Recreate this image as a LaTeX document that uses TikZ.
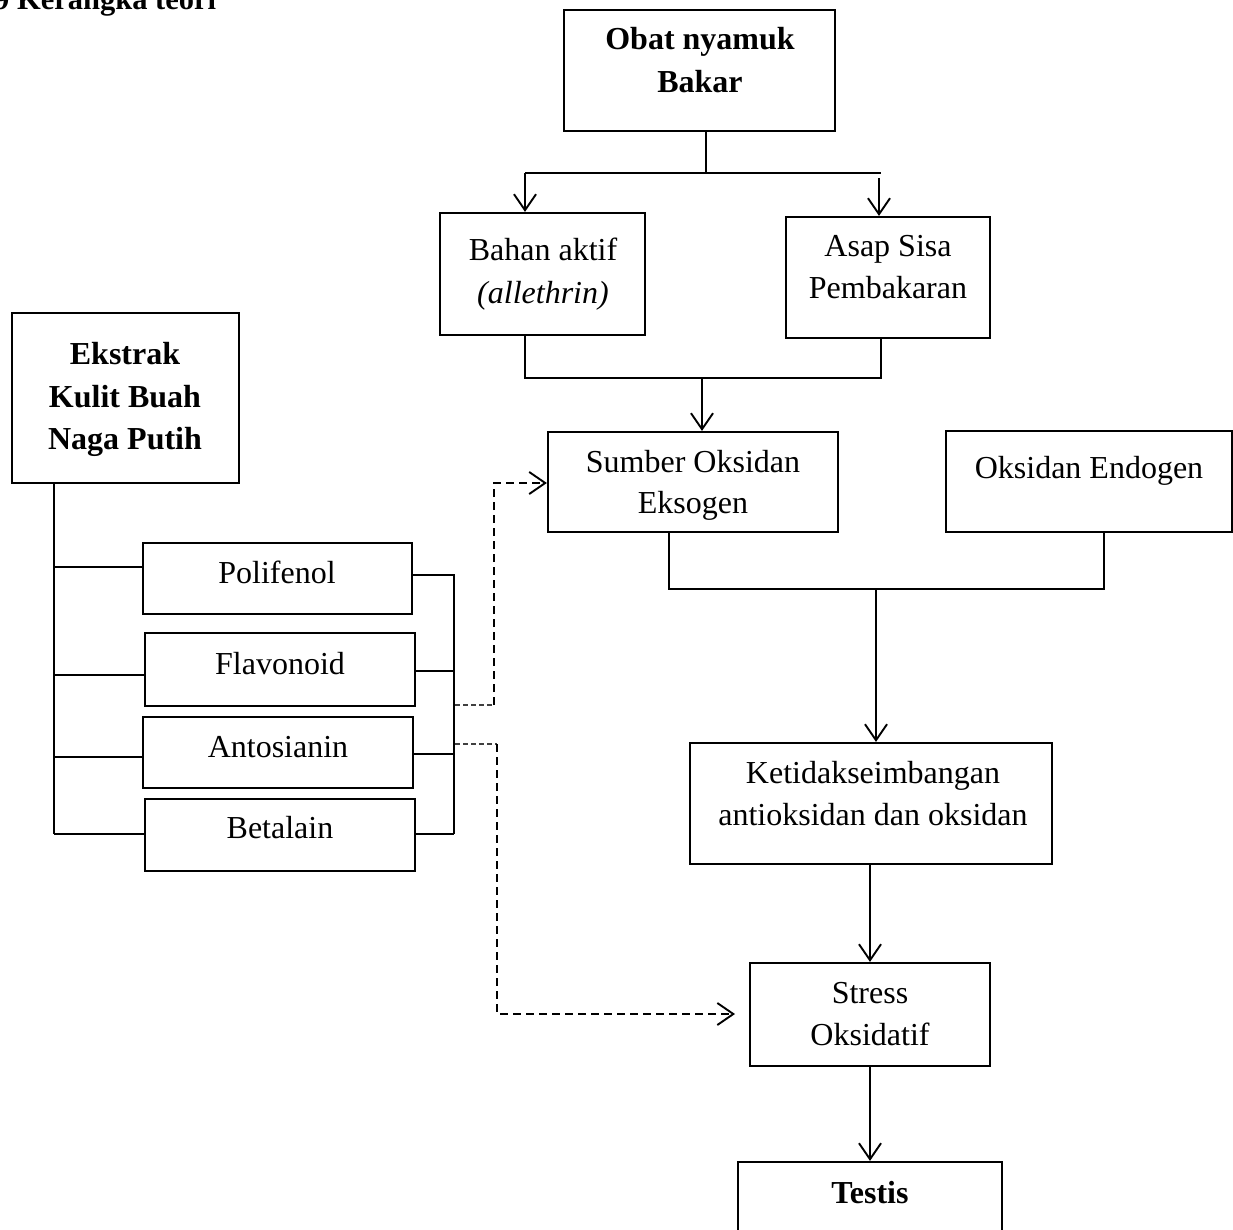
\documentclass[tikz,border=0pt]{standalone}
\usepackage{fontspec}
\setmainfont{Liberation Serif}
\usetikzlibrary{arrows.meta}
\begin{document}
\begin{tikzpicture}[x=1pt,y=-1pt,
  box/.style={draw, line width=2.2pt, rectangle, inner sep=0pt},
  txt/.style={inner sep=0pt, anchor=base, font=\fontsize{32}{42}\selectfont},
  btxt/.style={txt, font=\fontsize{32}{42}\selectfont\bfseries},
  conn/.style={line width=1.7pt},
  arr/.style={conn, -{Straight Barb[length=16pt,width=22pt,line width=1.9pt]}},
  dsh/.style={line width=1.7pt, dash pattern=on 8pt off 5pt},
  dshthin/.style={line width=1.1pt, black!75, dash pattern=on 5pt off 3pt},
  dsharr/.style={dsh, -{Straight Barb[length=16pt,width=22pt,line width=1.9pt]}}
]
\useasboundingbox (0,0) rectangle (1233,1230);

% title
\node[btxt, anchor=base west, font=\fontsize{30.5}{40}\selectfont\bfseries] (title) at (-6,10) {9 Kerangka teori};

% boxes: center, width, height
\node[box, minimum width=271pt, minimum height=121pt] (obat) at (699.5,70.5) {};
\node[box, minimum width=205pt, minimum height=122pt] (bahan) at (542.5,274) {};
\node[box, minimum width=204pt, minimum height=121pt] (asap) at (888,277.5) {};
\node[box, minimum width=290pt, minimum height=100pt] (sumber) at (693,482) {};
\node[box, minimum width=286pt, minimum height=101pt] (endogen) at (1089,481.5) {};
\node[box, minimum width=362pt, minimum height=121pt] (ketidak) at (871,803.5) {};
\node[box, minimum width=240pt, minimum height=103pt] (stress) at (870,1014.5) {};
\node[box, minimum width=264pt, minimum height=120pt] (testis) at (870,1222) {};
\node[box, minimum width=227pt, minimum height=170pt] (ekstrak) at (125.5,398) {};
\node[box, minimum width=269pt, minimum height=71pt] (poli) at (277.5,578.5) {};
\node[box, minimum width=270pt, minimum height=73pt] (flav) at (280,669.5) {};
\node[box, minimum width=270pt, minimum height=71pt] (anto) at (278,752.5) {};
\node[box, minimum width=270pt, minimum height=72pt] (beta) at (280,835) {};

% texts
\node[btxt] (obat1) at (700,50) {Obat nyamuk};
\node[btxt] (obat2) at (700,93) {Bakar};
\node[txt] (bahan1) at (543,261) {Bahan aktif};
\node[txt] (bahan2) at (543,304) {\itshape (allethrin)};
\node[txt] (asap1) at (888,257) {Asap Sisa};
\node[txt] (asap2) at (888,299) {Pembakaran};
\node[txt] (sumber1) at (693,472) {Sumber Oksidan};
\node[txt] (sumber2) at (693,513) {Eksogen};
\node[txt] (endogen1) at (1089,478) {Oksidan Endogen};
\node[txt] (ket1) at (873,783) {Ketidakseimbangan};
\node[txt] (ket2) at (873,825) {antioksidan dan oksidan};
\node[txt] (stress1) at (870,1003) {Stress};
\node[txt] (stress2) at (870,1045) {Oksidatif};
\node[btxt] (testis1) at (870,1203) {Testis};
\node[btxt] (eks1) at (125,364) {Ekstrak};
\node[btxt] (eks2) at (125,407) {Kulit Buah};
\node[btxt] (eks3) at (125,449) {Naga Putih};
\node[txt] (poli1) at (277,583) {Polifenol};
\node[txt] (flav1) at (280,674) {Flavonoid};
\node[txt] (anto1) at (278,757) {Antosianin};
\node[txt] (beta1) at (280,838) {Betalain};

% top tree
\coordinate (j1) at (706,173);
\coordinate (j1l) at (525,173);
\coordinate (j1r) at (881,173);
\coordinate (j1r2) at (879,178);
\draw[conn] (j1 |- obat.south) -- (j1);
\draw[conn] (j1l) -- (j1r);
\draw[arr] (j1l) -- (j1l |- bahan.north);
\draw[arr] (j1r2) -- (j1r2 |- asap.north);

\coordinate (j2l) at (525,378);
\coordinate (j2r) at (881,378);
\coordinate (j2) at (702,378);
\draw[conn] (j2l |- bahan.south) -- (j2l) -- (j2r) -- (j2r |- asap.south);
\draw[arr] (j2) -- (j2 |- sumber.north);

\coordinate (j3l) at (669,589);
\coordinate (j3r) at (1104,589);
\coordinate (j3) at (876,589);
\draw[conn] (j3l |- sumber.south) -- (j3l) -- (j3r) -- (j3r |- endogen.south);
\draw[arr] (j3) -- (j3 |- ketidak.north);

\coordinate (j4) at (870,864);
\draw[arr] (j4 |- ketidak.south) -- (j4 |- stress.north);
\draw[arr] (j4 |- stress.south) -- (j4 |- testis.north);

% left tree
\coordinate (lv) at (54,834);
\draw[conn] (lv |- ekstrak.south) -- (lv);
\coordinate (b1) at (54,567);
\coordinate (b2) at (54,675);
\coordinate (b3) at (54,757);
\draw[conn] (b1) -- (b1 -| poli.west);
\draw[conn] (b2) -- (b2 -| flav.west);
\draw[conn] (b3) -- (b3 -| anto.west);
\draw[conn] (lv) -- (lv -| beta.west);

\coordinate (r1) at (454,575);
\coordinate (r2) at (454,671);
\coordinate (r3) at (454,754);
\coordinate (r4) at (454,834);
\draw[conn] (r1 -| poli.east) -- (r1) -- (r4);
\draw[conn] (r2 -| flav.east) -- (r2);
\draw[conn] (r3 -| anto.east) -- (r3);
\draw[conn] (r4 -| beta.east) -- (r4);

% dashed connectors
\coordinate (d1a) at (455,705);
\coordinate (d1b) at (494,705);
\coordinate (d1c) at (494,483);
\draw[dshthin] (d1a) -- (d1b);
\draw[dsharr] (d1b) -- (d1c) -- (d1c -| sumber.west);

\coordinate (d2a) at (455,744);
\coordinate (d2b) at (497,744);
\coordinate (d2c) at (497,1014);
\coordinate (d2e) at (735,1014);
\draw[dshthin] (d2a) -- (d2b);
\draw[dsharr] (d2b) -- (d2c) -- (d2e);
\end{tikzpicture}
\end{document}
